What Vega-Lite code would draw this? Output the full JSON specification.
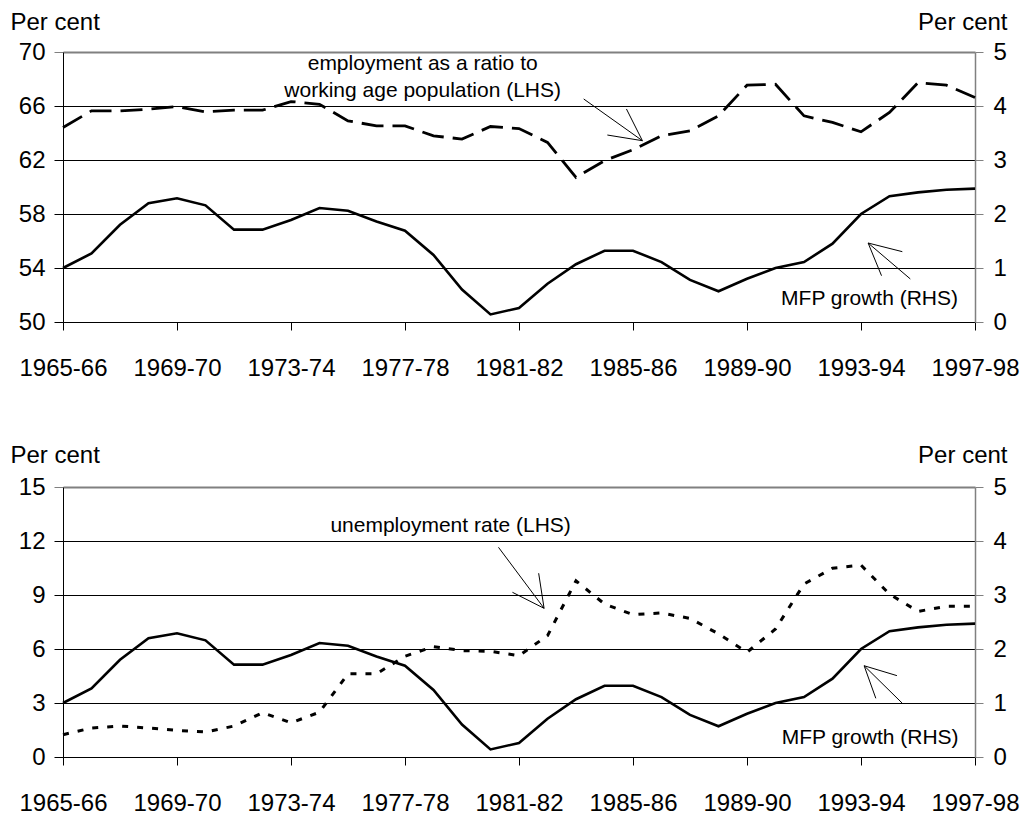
{
  "$schema": "https://vega.github.io/schema/vega-lite/v6.json",
  "background": "white",
  "padding": {"left": 10, "top": 10, "right": 5, "bottom": 5},
  "bounds": "flush",
  "spacing": 165,
  "config": {
    "view": {"stroke": null},
    "font": "Liberation Sans",
    "axis": {"labelFont": "Liberation Sans", "titleFont": "Liberation Sans", "labelColor": "#000", "titleColor": "#000", "labelFontSize": 24, "titleFontSize": 24, "titleFontWeight": "normal"}
  },
  "datasets": {
    "mfp": [
      {"year": 1965, "value": 1.0}, {"year": 1966, "value": 1.27}, {"year": 1967, "value": 1.80}, {"year": 1968, "value": 2.20},
      {"year": 1969, "value": 2.29}, {"year": 1970, "value": 2.16}, {"year": 1971, "value": 1.71}, {"year": 1972, "value": 1.71},
      {"year": 1973, "value": 1.89}, {"year": 1974, "value": 2.11}, {"year": 1975, "value": 2.06}, {"year": 1976, "value": 1.86},
      {"year": 1977, "value": 1.69}, {"year": 1978, "value": 1.24}, {"year": 1979, "value": 0.60}, {"year": 1980, "value": 0.14},
      {"year": 1981, "value": 0.26}, {"year": 1982, "value": 0.71}, {"year": 1983, "value": 1.07}, {"year": 1984, "value": 1.32},
      {"year": 1985, "value": 1.32}, {"year": 1986, "value": 1.11}, {"year": 1987, "value": 0.78}, {"year": 1988, "value": 0.57},
      {"year": 1989, "value": 0.80}, {"year": 1990, "value": 1.00}, {"year": 1991, "value": 1.11}, {"year": 1992, "value": 1.45},
      {"year": 1993, "value": 2.00}, {"year": 1994, "value": 2.33}, {"year": 1995, "value": 2.40}, {"year": 1996, "value": 2.45},
      {"year": 1997, "value": 2.47}
    ],
    "emp": [
      {"year": 1965, "value": 64.41}, {"year": 1966, "value": 65.64}, {"year": 1967, "value": 65.64}, {"year": 1968, "value": 65.76},
      {"year": 1969, "value": 65.96}, {"year": 1970, "value": 65.57}, {"year": 1971, "value": 65.69}, {"year": 1972, "value": 65.69},
      {"year": 1973, "value": 66.33}, {"year": 1974, "value": 66.13}, {"year": 1975, "value": 64.90}, {"year": 1976, "value": 64.53},
      {"year": 1977, "value": 64.53}, {"year": 1978, "value": 63.79}, {"year": 1979, "value": 63.55}, {"year": 1980, "value": 64.48},
      {"year": 1981, "value": 64.33}, {"year": 1982, "value": 63.30}, {"year": 1983, "value": 60.71}, {"year": 1984, "value": 61.95},
      {"year": 1985, "value": 62.76}, {"year": 1986, "value": 63.79}, {"year": 1987, "value": 64.16}, {"year": 1988, "value": 65.27},
      {"year": 1989, "value": 67.54}, {"year": 1990, "value": 67.61}, {"year": 1991, "value": 65.27}, {"year": 1992, "value": 64.78},
      {"year": 1993, "value": 64.09}, {"year": 1994, "value": 65.52}, {"year": 1995, "value": 67.73}, {"year": 1996, "value": 67.54},
      {"year": 1997, "value": 66.63}
    ],
    "unemp": [
      {"year": 1965, "value": 1.24}, {"year": 1966, "value": 1.61}, {"year": 1967, "value": 1.72}, {"year": 1968, "value": 1.61},
      {"year": 1969, "value": 1.48}, {"year": 1970, "value": 1.39}, {"year": 1971, "value": 1.72}, {"year": 1972, "value": 2.46},
      {"year": 1973, "value": 1.90}, {"year": 1974, "value": 2.49}, {"year": 1975, "value": 4.62}, {"year": 1976, "value": 4.62},
      {"year": 1977, "value": 5.60}, {"year": 1978, "value": 6.13}, {"year": 1979, "value": 5.91}, {"year": 1980, "value": 5.87},
      {"year": 1981, "value": 5.63}, {"year": 1982, "value": 6.74}, {"year": 1983, "value": 9.79}, {"year": 1984, "value": 8.50},
      {"year": 1985, "value": 7.91}, {"year": 1986, "value": 8.00}, {"year": 1987, "value": 7.70}, {"year": 1988, "value": 6.84},
      {"year": 1989, "value": 5.82}, {"year": 1990, "value": 7.11}, {"year": 1991, "value": 9.61}, {"year": 1992, "value": 10.49},
      {"year": 1993, "value": 10.66}, {"year": 1994, "value": 9.05}, {"year": 1995, "value": 8.09}, {"year": 1996, "value": 8.37},
      {"year": 1997, "value": 8.37}
    ],
    "top_arrows": [
      {"year": 1983.27, "value": 66.52, "year2": 1985.33, "value2": 63.43},
      {"year": 1984.10, "value": 63.85, "year2": 1985.33, "value2": 63.43},
      {"year": 1984.77, "value": 65.78, "year2": 1985.33, "value2": 63.43},
      {"year": 1993.25, "value": 55.85, "year2": 1994.45, "value2": 55.21},
      {"year": 1993.25, "value": 55.85, "year2": 1993.72, "value2": 53.43},
      {"year": 1993.25, "value": 55.85, "year2": 1994.73, "value2": 53.19}
    ],
    "top_text": [
      {"year": 1977.62, "value": 68.67, "label": "employment as a ratio to"},
      {"year": 1977.62, "value": 66.67, "label": "working age population (LHS)"},
      {"year": 1993.3, "value": 51.26, "label": "MFP growth (RHS)"}
    ],
    "bottom_arrows": [
      {"year": 1980.28, "value": 11.65, "year2": 1981.88, "value2": 8.26},
      {"year": 1980.77, "value": 9.15, "year2": 1981.88, "value2": 8.26},
      {"year": 1981.69, "value": 10.21, "year2": 1981.88, "value2": 8.26},
      {"year": 1993.11, "value": 5.07, "year2": 1994.26, "value2": 4.52},
      {"year": 1993.11, "value": 5.07, "year2": 1993.52, "value2": 3.26},
      {"year": 1993.11, "value": 5.07, "year2": 1994.44, "value2": 3.0}
    ],
    "bottom_text": [
      {"year": 1978.6, "value": 12.48, "label": "unemployment rate (LHS)"},
      {"year": 1993.32, "value": 0.72, "label": "MFP growth (RHS)"}
    ]
  },
  "vconcat": [
    {
      "width": 912,
      "height": 270,
      "resolve": {"scale": {"y": "independent"}},
      "encoding": {
        "x": {"field": "year", "type": "quantitative", "scale": {"domain": [1965, 1997], "nice": false, "zero": false},
          "axis": {"orient": "bottom", "values": [1965, 1969, 1973, 1977, 1981, 1985, 1989, 1993, 1997],
            "labelExpr": "datum.value + '-' + substring(toString(datum.value + 1), 2, 4)",
            "grid": false, "title": null, "domainColor": "#000", "domainWidth": 1, "tickColor": "#000", "tickSize": 8,
            "labelPadding": 26, "labelFlush": false, "labelOverlap": false}}
      },
      "layer": [
        {
          "data": {"name": "emp"},
          "mark": {"type": "line", "color": "#000", "strokeWidth": 2.8, "strokeDash": [22, 9]},
          "encoding": {
            "y": {"field": "value", "type": "quantitative", "scale": {"domain": [50, 70], "nice": false, "zero": false},
              "axis": {"orient": "left", "values": [50, 54, 58, 62, 66, 70], "grid": true,
                "gridColor": {"condition": {"test": "datum.value == 70", "value": "#808080"}, "value": "#000"},
                "gridWidth": {"condition": {"test": "datum.value == 70", "value": 1.8}, "value": 1},
                "tickColor": {"condition": {"test": "datum.value == 70", "value": "#808080"}, "value": "#000"},
                "domainColor": "#000", "tickSize": 9, "labelPadding": 9,
                "title": "Per cent", "titleAngle": 0, "titleAlign": "left", "titleBaseline": "alphabetic",
                "titleX": -53, "titleY": -23}}
          }
        },
        {
          "data": {"name": "top_arrows"},
          "mark": {"type": "rule", "color": "#000", "strokeWidth": 1},
          "encoding": {
            "x2": {"field": "year2"},
            "y": {"field": "value", "type": "quantitative", "scale": {"domain": [50, 70], "nice": false, "zero": false}, "axis": null},
            "y2": {"field": "value2"}
          }
        },
        {
          "data": {"name": "top_text"},
          "mark": {"type": "text", "color": "#000", "fontSize": 21, "align": "center", "baseline": "alphabetic", "font": "Liberation Sans"},
          "encoding": {
            "y": {"field": "value", "type": "quantitative", "scale": {"domain": [50, 70], "nice": false, "zero": false}, "axis": null},
            "text": {"field": "label"}
          }
        },
        {
          "data": {"name": "mfp"},
          "mark": {"type": "line", "color": "#000", "strokeWidth": 2.6},
          "encoding": {
            "y": {"field": "value", "type": "quantitative", "scale": {"domain": [0, 5], "nice": false, "zero": false},
              "axis": {"orient": "right", "values": [0, 1, 2, 3, 4, 5], "grid": false,
                "domainColor": "#808080", "domainWidth": 1.5, "tickColor": "#808080", "tickSize": 8, "labelPadding": 10,
                "title": "Per cent", "titleAngle": 0, "titleAlign": "right", "titleBaseline": "alphabetic",
                "titleX": 32, "titleY": -23}}
          }
        }
      ]
    },
    {
      "width": 912,
      "height": 270,
      "resolve": {"scale": {"y": "independent"}},
      "encoding": {
        "x": {"field": "year", "type": "quantitative", "scale": {"domain": [1965, 1997], "nice": false, "zero": false},
          "axis": {"orient": "bottom", "values": [1965, 1969, 1973, 1977, 1981, 1985, 1989, 1993, 1997],
            "labelExpr": "datum.value + '-' + substring(toString(datum.value + 1), 2, 4)",
            "grid": false, "title": null, "domainColor": "#000", "domainWidth": 1, "tickColor": "#000", "tickSize": 8,
            "labelPadding": 26, "labelFlush": false, "labelOverlap": false}}
      },
      "layer": [
        {
          "data": {"name": "unemp"},
          "mark": {"type": "line", "color": "#000", "strokeWidth": 3, "strokeDash": [6, 9]},
          "encoding": {
            "y": {"field": "value", "type": "quantitative", "scale": {"domain": [0, 15], "nice": false, "zero": false},
              "axis": {"orient": "left", "values": [0, 3, 6, 9, 12, 15], "grid": true,
                "gridColor": {"condition": {"test": "datum.value == 15", "value": "#808080"}, "value": "#000"},
                "gridWidth": {"condition": {"test": "datum.value == 15", "value": 1.8}, "value": 1},
                "tickColor": {"condition": {"test": "datum.value == 15", "value": "#808080"}, "value": "#000"},
                "domainColor": "#000", "tickSize": 9, "labelPadding": 9,
                "title": "Per cent", "titleAngle": 0, "titleAlign": "left", "titleBaseline": "alphabetic",
                "titleX": -53, "titleY": -25}}
          }
        },
        {
          "data": {"name": "bottom_arrows"},
          "mark": {"type": "rule", "color": "#000", "strokeWidth": 1},
          "encoding": {
            "x2": {"field": "year2"},
            "y": {"field": "value", "type": "quantitative", "scale": {"domain": [0, 15], "nice": false, "zero": false}, "axis": null},
            "y2": {"field": "value2"}
          }
        },
        {
          "data": {"name": "bottom_text"},
          "mark": {"type": "text", "color": "#000", "fontSize": 21, "align": "center", "baseline": "alphabetic", "font": "Liberation Sans"},
          "encoding": {
            "y": {"field": "value", "type": "quantitative", "scale": {"domain": [0, 15], "nice": false, "zero": false}, "axis": null},
            "text": {"field": "label"}
          }
        },
        {
          "data": {"name": "mfp"},
          "mark": {"type": "line", "color": "#000", "strokeWidth": 2.6},
          "encoding": {
            "y": {"field": "value", "type": "quantitative", "scale": {"domain": [0, 5], "nice": false, "zero": false},
              "axis": {"orient": "right", "values": [0, 1, 2, 3, 4, 5], "grid": false,
                "domainColor": "#808080", "domainWidth": 1.5, "tickColor": "#808080", "tickSize": 8, "labelPadding": 10,
                "title": "Per cent", "titleAngle": 0, "titleAlign": "right", "titleBaseline": "alphabetic",
                "titleX": 32, "titleY": -25}}
          }
        }
      ]
    }
  ]
}
